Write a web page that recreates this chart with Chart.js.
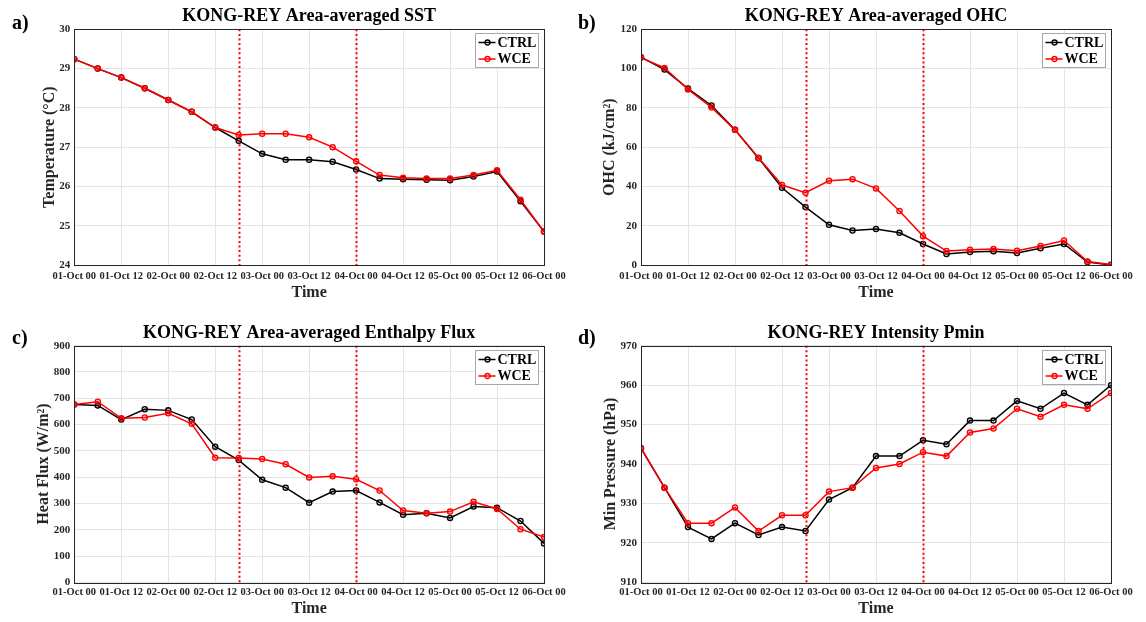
<!DOCTYPE html>
<html><head><meta charset="utf-8">
<script src="https://cdn.jsdelivr.net/npm/chart.js@4.4.1/dist/chart.umd.min.js"></script>
<style>
html,body{margin:0;padding:0;background:#fff;}
#wrap{position:relative;width:1146px;height:622px;background:#fff;}
.p{position:absolute;width:573px;height:311px;}
canvas{display:block}
</style></head><body>
<div id="wrap">
<div class="p" style="left:0;top:0"><canvas id="ca" width="573" height="311"></canvas></div>
<div class="p" style="left:573px;top:0"><canvas id="cb" width="573" height="311"></canvas></div>
<div class="p" style="left:0;top:311px"><canvas id="cc" width="573" height="311"></canvas></div>
<div class="p" style="left:573px;top:311px"><canvas id="cd" width="573" height="311"></canvas></div>
</div>
<script>
// ---- data ----
const hours = [0,6,12,18,24,30,36,42,48,54,60,66,72,78,84,90,96,102,108,114,120];
const tickLabels = ['01-Oct 00','01-Oct 12','02-Oct 00','02-Oct 12','03-Oct 00','03-Oct 12','04-Oct 00','04-Oct 12','05-Oct 00','05-Oct 12','06-Oct 00'];
const eventHours = [42, 72];
const seriesNames = ['CTRL', 'WCE'];

const sstCtrl = [29.24,29.0,28.77,28.5,28.2,27.9,27.5,27.16,26.83,26.68,26.68,26.63,26.43,26.2,26.18,26.17,26.16,26.25,26.38,25.62,24.85];
const sstWce  = [29.24,29.0,28.77,28.5,28.2,27.9,27.5,27.31,27.34,27.34,27.25,27.0,26.64,26.29,26.22,26.2,26.2,26.29,26.41,25.66,24.85];
const ohcCtrl = [105.8,99.5,89.8,81.2,68.8,54.4,39.3,29.5,20.5,17.6,18.3,16.4,10.7,5.6,6.6,7.0,6.1,8.5,10.7,1.5,0.0];
const ohcWce  = [105.6,100.3,89.4,80.2,68.8,54.6,40.7,36.8,42.9,43.7,39.0,27.5,14.7,7.1,7.8,8.1,7.3,9.7,12.5,1.8,0.2];
const fluxCtrl = [676,673,619,658,654,619,516,465,390,360,303,345,349,304,257,263,245,288,284,233,148];
const fluxWce  = [676,687,624,627,643,603,474,473,469,449,399,403,392,349,273,263,269,306,279,202,172];
const pminCtrl = [944,934,924,921,925,922,924,923,931,934,942,942,946,945,951,951,956,954,958,955,960];
const pminWce  = [944,934,925,925,929,923,927,927,933,934,939,940,943,942,948,949,954,952,955,954,958];

const FONT = "'Liberation Serif', 'Times New Roman', serif";
const INK = '#262626';

const matlabPlugin = {
  id: 'matlabDeco',
  afterDatasetsDraw(chart, args, opts) {
    const {ctx, chartArea: a, scales: {x}} = chart;
    ctx.save();
    // event lines
    ctx.strokeStyle = '#ff0000';
    ctx.lineWidth = 2;
    ctx.setLineDash([2, 2.6]);
    eventHours.forEach(h => {
      const px = Math.round(x.getPixelForValue(h)) + 0.5;
      ctx.beginPath(); ctx.moveTo(px, a.top); ctx.lineTo(px, a.bottom); ctx.stroke();
    });
    ctx.setLineDash([]);
    // box
    ctx.strokeStyle = INK; ctx.lineWidth = 1;
    ctx.strokeRect(Math.round(a.left) + 0.5, Math.round(a.top) + 0.5, Math.round(a.right - a.left), Math.round(a.bottom - a.top));
    ctx.restore();
  },
  afterDraw(chart, args, opts) {
    const {ctx, chartArea: a} = chart;
    ctx.save();
    // panel letter
    ctx.fillStyle = '#000';
    ctx.font = 'bold 20px ' + FONT;
    ctx.textBaseline = 'middle'; ctx.textAlign = 'left';
    ctx.fillText(opts.letter, opts.letterX, opts.letterY);
    // legend inside
    const bw = 63, bh = 34;
    const bx = Math.round(a.right - 6 - bw) + 0.5, by = Math.round(a.top + 4) + 0.5;
    ctx.fillStyle = '#fff';
    ctx.fillRect(bx, by, bw, bh);
    ctx.strokeStyle = '#a8a8a8'; ctx.lineWidth = 1;
    ctx.strokeRect(bx, by, bw, bh);
    chart.data.datasets.forEach((ds, i) => {
      const yy = by + 9 + i * 16.5;
      ctx.strokeStyle = ds.borderColor; ctx.lineWidth = 1.5;
      ctx.beginPath(); ctx.moveTo(bx + 3, yy); ctx.lineTo(bx + 20, yy); ctx.stroke();
      ctx.beginPath(); ctx.arc(bx + 12, yy, 2.5, 0, Math.PI * 2); ctx.lineWidth = 1.3; ctx.stroke();
      ctx.fillStyle = '#000';
      ctx.font = 'bold 14px ' + FONT;
      ctx.fillText(ds.label, bx + 22, yy + 0.5);
    });
    ctx.restore();
  }
};

function makePanel(id, p) {
  const mk = (vals) => hours.map((h, i) => ({x: h, y: vals[i]}));
  return new Chart(document.getElementById(id), {
    type: 'line',
    data: {
      datasets: [
        {label: seriesNames[0], data: mk(p.ctrl), borderColor: '#000000', backgroundColor: 'rgba(0,0,0,0)',
         borderWidth: 1.5, pointRadius: 2.6, pointBorderWidth: 1.3, pointBackgroundColor: 'rgba(0,0,0,0.15)', order: 1, tension: 0},
        {label: seriesNames[1], data: mk(p.wce), borderColor: '#ff0000', backgroundColor: 'rgba(0,0,0,0)',
         borderWidth: 1.5, pointRadius: 2.6, pointBorderWidth: 1.3, pointBackgroundColor: 'rgba(255,0,0,0.2)', order: 0, tension: 0}
      ]
    },
    options: {
      responsive: false, animation: false, devicePixelRatio: 1,
      layout: {padding: {left: 0, right: p.padRight, top: 0, bottom: 0}},
      plugins: {
        legend: {display: false},
        tooltip: {enabled: false},
        title: {display: true, text: p.title, fullSize: false, color: '#000',
                font: {family: FONT, size: 18, weight: 'bold', lineHeight: 1.2},
                padding: {top: p.tPadTop, bottom: p.tPadBottom}},
        matlabDeco: {letter: p.letter, letterX: p.letterX, letterY: p.letterY}
      },
      scales: {
        x: {
          type: 'linear', min: 0, max: 120,
          afterFit: (s) => { s.height = p.xH; },
          grid: {color: '#e4e4e4', drawTicks: false, lineWidth: 1},
          border: {display: false},
          ticks: {stepSize: 12, autoSkip: false, maxRotation: 0, minRotation: 0, padding: p.xTickPad, color: INK,
                  font: {family: FONT, size: 10.5, weight: 'bold'},
                  callback: (v) => tickLabels[Math.round(v / 12)]},
          title: {display: true, text: 'Time', color: INK, font: {family: FONT, size: 16, weight: 'bold', lineHeight: 1.2},
                  padding: {top: 0, bottom: p.xTitlePad}}
        },
        y: {
          min: p.yMin, max: p.yMax,
          afterFit: (s) => { s.width = p.yW; },
          grid: {color: '#e4e4e4', drawTicks: false, lineWidth: 1},
          border: {display: false},
          ticks: {stepSize: p.yStep, padding: 4, color: INK, font: {family: FONT, size: 11, weight: 'bold'}},
          title: {display: true, text: p.yTitle, color: INK, font: {family: FONT, size: 16, weight: 'bold', lineHeight: 1.2},
                  padding: {top: p.yTitleCenter - 9.6, bottom: 0}}
        }
      }
    },
    plugins: [matlabPlugin]
  });
}

const topRow = {tPadTop: 6, tPadBottom: 1.7, xH: 46, xTickPad: 5, xTitlePad: 8.4, letterY: 23.5};
const botRow = {tPadTop: 11.9, tPadBottom: 1.2, xH: 39.7, xTickPad: 3.7, xTitlePad: 3.7, letterY: 27.5};

makePanel('ca', Object.assign({}, topRow, {letter: 'a)', letterX: 12, title: 'KONG-REY Area-averaged SST', yTitle: 'Temperature (°C)',
  yMin: 24, yMax: 30, yStep: 1, ctrl: sstCtrl, wce: sstWce, yW: 74.3, yTitleCenter: 49.5, padRight: 29}));
makePanel('cb', Object.assign({}, topRow, {letter: 'b)', letterX: 5, title: 'KONG-REY Area-averaged OHC', yTitle: 'OHC (kJ/cm²)',
  yMin: 0, yMax: 120, yStep: 20, ctrl: ohcCtrl, wce: ohcWce, yW: 68, yTitleCenter: 37, padRight: 35}));
makePanel('cc', Object.assign({}, botRow, {letter: 'c)', letterX: 12, title: 'KONG-REY Area-averaged Enthalpy Flux', yTitle: 'Heat Flux (W/m²)',
  yMin: 0, yMax: 900, yStep: 100, ctrl: fluxCtrl, wce: fluxWce, yW: 74.3, yTitleCenter: 43.6, padRight: 29}));
makePanel('cd', Object.assign({}, botRow, {letter: 'd)', letterX: 5, title: 'KONG-REY Intensity Pmin', yTitle: 'Min Pressure (hPa)',
  yMin: 910, yMax: 970, yStep: 10, ctrl: pminCtrl, wce: pminWce, yW: 68, yTitleCenter: 38, padRight: 35}));
</script>
</body></html>
